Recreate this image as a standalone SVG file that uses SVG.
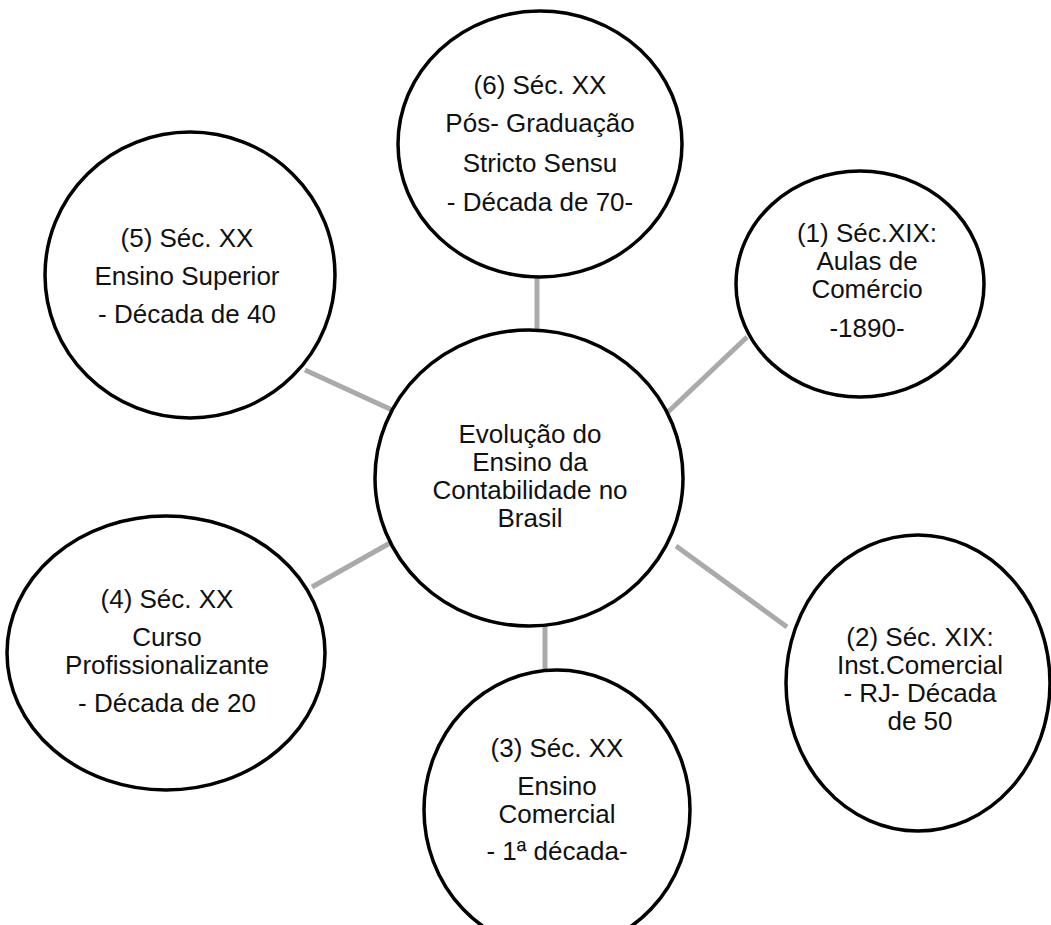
<svg xmlns="http://www.w3.org/2000/svg" width="1051" height="925" viewBox="0 0 1051 925">
<style>
.n{fill:#fff;stroke:#000;stroke-width:3.5}
.c{stroke:#aaaaaa;stroke-width:5;fill:none}
text{font-family:"Liberation Sans",Arial,sans-serif;font-size:26px;fill:#111;text-anchor:middle}
</style>
<rect width="1051" height="925" fill="#fff"/>
<g id="connectors">
<line class="c" x1="537" y1="275" x2="537" y2="332"/>
<line class="c" x1="305" y1="370" x2="392" y2="410"/>
<line class="c" x1="747" y1="337" x2="668" y2="412"/>
<line class="c" x1="390" y1="543" x2="312" y2="587"/>
<line class="c" x1="676" y1="546" x2="787" y2="627"/>
<line class="c" x1="545" y1="623" x2="545" y2="672"/>
</g>
<g id="center">
<ellipse class="n" cx="529" cy="478" rx="154" ry="148"/>
<text x="530" y="443">Evolução do</text>
<text x="530" y="471">Ensino da</text>
<text x="530" y="499">Contabilidade no</text>
<text x="530" y="527">Brasil</text>
</g>
<g id="node6">
<ellipse class="n" cx="540" cy="144" rx="142" ry="133"/>
<text x="540" y="94">(6) Séc. XX</text>
<text x="540" y="132">Pós- Graduação</text>
<text x="540" y="172">Stricto Sensu</text>
<text x="540" y="211">- Década de 70-</text>
</g>
<g id="node1">
<ellipse class="n" cx="860" cy="284" rx="124" ry="113"/>
<text x="867" y="242">(1) Séc.XIX:</text>
<text x="867" y="270">Aulas de</text>
<text x="867" y="298">Comércio</text>
<text x="867" y="337">-1890-</text>
</g>
<g id="node2">
<ellipse class="n" cx="918" cy="683" rx="132" ry="148"/>
<text x="920" y="646">(2) Séc. XIX:</text>
<text x="920" y="674">Inst.Comercial</text>
<text x="920" y="702">- RJ- Década</text>
<text x="920" y="730">de 50</text>
</g>
<g id="node3">
<ellipse class="n" cx="557" cy="810" rx="133" ry="140"/>
<text x="557" y="757">(3) Séc. XX</text>
<text x="557" y="795">Ensino</text>
<text x="557" y="823">Comercial</text>
<text x="557" y="860">- 1ª década-</text>
</g>
<g id="node4">
<ellipse class="n" cx="166" cy="653" rx="159" ry="137"/>
<text x="167" y="608">(4) Séc. XX</text>
<text x="167" y="646">Curso</text>
<text x="167" y="674">Profissionalizante</text>
<text x="167" y="712">- Década de 20</text>
</g>
<g id="node5">
<ellipse class="n" cx="190" cy="275" rx="145" ry="143"/>
<text x="187" y="247">(5) Séc. XX</text>
<text x="187" y="285">Ensino Superior</text>
<text x="187" y="323">- Década de 40</text>
</g>
</svg>
